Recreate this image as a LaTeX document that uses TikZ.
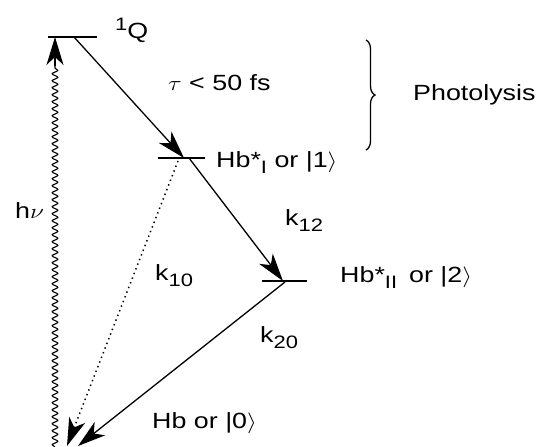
\documentclass[tikz,border=0pt]{standalone}
\usepackage{fontspec}
\setmainfont{Liberation Sans}
\usetikzlibrary{arrows.meta,decorations.pathmorphing,decorations.pathreplacing}
\newcommand{\lsub}[1]{\raisebox{-6pt}{\fontsize{18}{18}\selectfont #1}}
\newcommand{\wtxt}[1]{\scalebox{1.22}[1]{#1}}
\begin{document}
\begin{tikzpicture}[x=1pt,y=-1pt,
  lvl/.style={line width=1.7pt},
  arr/.style={line width=1.3pt,-{Stealth[length=28pt,width=17pt,inset=8pt]}},
  dotarr/.style={arr,line width=1.5pt,dash pattern=on 1.4pt off 3.6pt},
  wavy/.style={line width=1.1pt,decorate,decoration={snake,amplitude=2.8pt,segment length=7pt}},
  lbl/.style={anchor=base west,inner sep=0pt,font=\fontsize{22}{24}\selectfont},
]
\useasboundingbox (0,0) rectangle (541,447);
% levels
\coordinate (qL) at (48,37);   \coordinate (qR) at (97,37);
\coordinate (h1L) at (158,158); \coordinate (h1R) at (205,158);
\coordinate (h2L) at (262,281); \coordinate (h2R) at (307,281);
\draw[lvl] (qL) -- (qR);
\draw[lvl] (h1L) -- (h1R);
\draw[lvl] (h2L) -- (h2R);
% transitions
\coordinate (qs) at (74,37);   \coordinate (h1t) at (184,158);
\coordinate (h1s) at (189,158); \coordinate (h2t) at (283,281);
\coordinate (h2s) at (285,282); \coordinate (g2) at (78,446);
\coordinate (h1d) at (178,161); \coordinate (g1) at (67,446);
\draw[arr] (qs) -- (h1t);
\draw[arr] (h1s) -- (h2t);
\draw[arr] (h2s) -- (g2);
\draw[dotarr] (h1d) -- (g1);
% excitation
\coordinate (w0) at (55,447); \coordinate (w1) at (55,66); \coordinate (wt) at (55,37);
\draw[wavy] (w0) -- (w1);
\draw[arr] (w1) -- (wt);
% brace
\coordinate (b1) at (366,40); \coordinate (b2) at (366,150);
\draw[line width=1.3pt,decorate,decoration={brace,amplitude=9pt}] (b1) -- (b2);
% labels
\node[lbl] (qlab) at (115,38) {\wtxt{\raisebox{8pt}{\fontsize{18}{18}\selectfont 1}Q}};
\node[lbl] (tau) at (168,90) {\wtxt{$\tau$ < 50 fs}};
\node[lbl] (photo) at (413,100) {\wtxt{Photolysis}};
\node[lbl] (hb1) at (216,167) {\wtxt{Hb*\lsub{I} or |1$\rangle$}};
\node[lbl] (k12) at (285,225) {\wtxt{k\lsub{12}}};
\node[lbl] (hb2) at (340,282) {\wtxt{Hb*\lsub{II}\, or |2$\rangle$}};
\node[lbl] (k10) at (155,280) {\wtxt{k\lsub{10}}};
\node[lbl] (k20) at (260,342) {\wtxt{k\lsub{20}}};
\node[lbl] (hnu) at (15,218) {\wtxt{h$\nu$}};
\node[lbl] (hb0) at (152,428) {\wtxt{Hb or |0$\rangle$}};
\end{tikzpicture}
\end{document}
